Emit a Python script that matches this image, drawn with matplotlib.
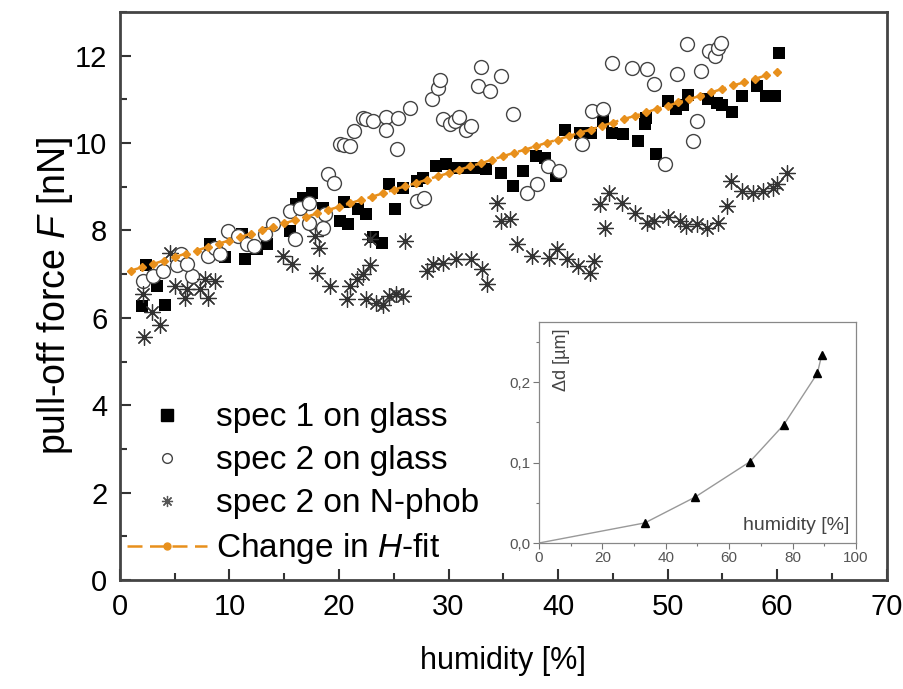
import matplotlib
matplotlib.use("Agg")
import matplotlib.pyplot as plt
from matplotlib.lines import Line2D
from matplotlib.ticker import MultipleLocator, FuncFormatter

plt.rcParams['font.family'] = ['Liberation Sans', 'DejaVu Sans']
plt.rcParams['mathtext.fontset'] = 'custom'
plt.rcParams['mathtext.rm'] = 'Liberation Sans'
plt.rcParams['mathtext.it'] = 'Liberation Sans:italic'

# spec 1 on glass (black squares)
s1_x = [2.0, 4.1, 3.35, 2.4, 11.4, 8.2, 9.6, 12.5, 13.4, 11.1, 15.5, 16.7, 17.5, 16.1,
        18.5, 20.1, 20.8, 20.5, 21.7, 22.5, 23.1, 23.9, 24.6, 25.1, 25.8, 27.1, 27.7,
        28.9, 29.8, 30.7, 31.6, 32.5, 33.4, 34.8, 35.9, 36.8, 38.0, 38.8, 39.8, 40.6,
        42.0, 43.0, 44.1, 44.9, 45.9, 47.3, 47.9, 48.05, 48.96, 50.0, 50.8, 51.4, 51.9,
        53.7, 54.5, 55.0, 55.9, 56.8, 58.2, 59.0, 59.8, 60.2]
s1_y = [6.28, 6.3, 6.74, 7.2, 7.35, 7.7, 7.4, 7.57, 7.69, 7.92, 7.99, 8.75, 8.86, 8.6,
        8.52, 8.22, 8.15, 8.64, 8.49, 8.37, 7.84, 7.72, 9.06, 8.49, 8.98, 9.13, 9.2,
        9.47, 9.52, 9.43, 9.42, 9.42, 9.4, 9.32, 9.02, 9.36, 9.7, 9.66, 9.25, 10.3,
        10.23, 10.23, 10.5, 10.23, 10.2, 10.05, 10.43, 10.57, 9.74, 10.96, 10.77, 10.88, 11.1,
        11.0, 10.92, 10.88, 10.7, 11.07, 11.3, 11.07, 11.07, 12.06]

# spec 2 on glass (open circles)
s2_x = [2.1, 3.0, 3.9, 5.2, 5.6, 6.6, 6.1, 8.0, 8.7, 9.1, 9.9, 10.8, 11.6, 12.2, 14.0,
        13.2, 15.5, 16.0, 16.4, 17.3, 17.3, 18.5, 18.7, 19.0, 19.5, 20.1, 20.5, 21.0,
        21.4, 22.2, 22.5, 23.1, 24.3, 24.3, 25.3, 25.4, 26.5, 27.1, 27.8, 28.5, 29.0,
        29.2, 29.5, 30.1, 30.6, 31.0, 31.6, 32.1, 32.7, 33.0, 33.8, 34.8, 35.9, 39.1,
        40.1, 37.2, 38.1, 42.2, 43.1, 44.1, 44.9, 46.8, 48.1, 48.8, 49.8, 50.9, 52.3,
        52.7, 51.8, 53.1, 53.8, 54.3, 54.6, 54.9]
s2_y = [6.85, 6.96, 7.08, 7.2, 7.46, 6.96, 7.23, 7.42, 7.6, 7.46, 7.99, 7.88, 7.69, 7.65, 8.15,
        7.92, 8.45, 7.8, 8.52, 8.63, 8.17, 8.06, 8.37, 9.29, 9.09, 9.97, 9.95, 9.93,
        10.27, 10.58, 10.55, 10.5, 10.6, 10.3, 9.86, 10.57, 10.8, 8.67, 8.75, 11.0, 11.26,
        11.45, 10.54, 10.43, 10.5, 10.6, 10.3, 10.4, 11.3, 11.75, 11.19, 11.53, 10.66, 9.47,
        9.36, 8.86, 9.06, 9.97, 10.73, 10.77, 11.83, 11.71, 11.69, 11.35, 9.52, 11.57, 10.05,
        10.5, 12.26, 11.64, 12.1, 11.99, 12.17, 12.28]

# spec 2 on N-phob (asterisks)
s3_x = [2.2, 3.65, 2.95, 2.1, 4.6, 5.0, 5.9, 6.1, 7.3, 8.0, 8.7, 7.8, 14.9, 15.7, 17.8,
        18.2, 18.0, 19.2, 20.7, 21.0, 21.6, 22.2, 22.8, 22.5, 23.4, 24.0, 24.6, 25.2,
        25.8, 22.8, 26.0, 28.0, 28.6, 29.5, 30.7, 32.1, 33.1, 33.5, 34.4, 34.8, 35.6,
        36.3, 37.6, 39.2, 39.9, 40.8, 41.8, 42.9, 43.3, 43.8, 44.3, 44.7, 45.8, 47.0,
        48.1, 48.8, 50.0, 51.1, 51.7, 52.7, 53.6, 54.6, 55.4, 55.8, 56.8, 57.8, 58.7,
        59.6, 60.0, 60.9]
s3_y = [5.57, 5.84, 6.14, 6.55, 7.48, 6.74, 6.46, 6.67, 6.67, 6.46, 6.85, 6.89, 7.42, 7.23, 7.88,
        7.6, 7.03, 6.74, 6.44, 6.72, 6.9, 7.0, 7.2, 6.44, 6.33, 6.3, 6.5, 6.55,
        6.5, 7.8, 7.76, 7.08, 7.23, 7.26, 7.35, 7.35, 7.12, 6.78, 8.63, 8.22, 8.26,
        7.69, 7.42, 7.37, 7.57, 7.35, 7.19, 7.03, 7.31, 8.6, 8.06, 8.86, 8.63, 8.4,
        8.17, 8.22, 8.3, 8.22, 8.1, 8.15, 8.06, 8.17, 8.56, 9.13, 8.9, 8.86, 8.9,
        8.97, 9.06, 9.32]

# change in H fit
fit_x = list(range(1, 61))
fit_y = [7.08, 7.16, 7.23, 7.31, 7.39, 7.47, 7.54, 7.62, 7.70, 7.77, 7.85, 7.93, 8.00, 8.08,
         8.16, 8.24, 8.31, 8.39, 8.47, 8.54, 8.62, 8.70, 8.77, 8.85, 8.93, 9.01, 9.08, 9.16,
         9.24, 9.31, 9.39, 9.47, 9.54, 9.62, 9.70, 9.78, 9.85, 9.93, 10.01, 10.08, 10.16,
         10.24, 10.31, 10.39, 10.47, 10.55, 10.62, 10.70, 10.78, 10.85, 10.93, 11.01, 11.08,
         11.16, 11.24, 11.32, 11.39, 11.47, 11.55, 11.62]

# inset: thickness change vs humidity
in_x = [0, 33.4, 49.2, 66.5, 77.2, 87.8, 89.2]
in_y = [0.0, 0.025, 0.057, 0.101, 0.147, 0.211, 0.234]

orange = '#E8901C'
fig = plt.figure(figsize=(9.04, 6.89), dpi=100)
ax = fig.add_axes([0.1327, 0.1582, 0.848, 0.8244])

ax.scatter(s1_x, s1_y, marker='s', s=85, c='black', linewidths=0, zorder=2)
ax.scatter(s2_x, s2_y, marker='o', s=100, facecolors='white', edgecolors='#444444',
           linewidths=1.0, zorder=3)
ax.scatter(s3_x, s3_y, marker=(8, 2, 0), s=130, c='#333333', linewidths=0.9, zorder=4)
fit_line, = ax.plot(fit_x, fit_y, color=orange, linestyle='--', dashes=(6, 3), lw=1.8,
                    marker='D', ms=4, mec=orange, mfc=orange, zorder=5)

ax.set_xlim(0, 70)
ax.set_ylim(0, 13)
ax.xaxis.set_major_locator(MultipleLocator(10))
ax.xaxis.set_minor_locator(MultipleLocator(5))
ax.yaxis.set_major_locator(MultipleLocator(2))
ax.yaxis.set_minor_locator(MultipleLocator(1))
ax.tick_params(which='both', direction='in', width=1.5, color='#333333',
               labelsize=21, top=False, right=False)
ax.tick_params(which='major', length=8, pad=9)
ax.tick_params(which='minor', length=5)
for sp in ax.spines.values():
    sp.set_linewidth(2)
    sp.set_color('#444444')
ax.set_xlabel('humidity [%]', fontsize=22, labelpad=18)
ax.set_ylabel('pull-off force $F$ [nN]', fontsize=27, labelpad=0)

h1 = Line2D([], [], ls='none', marker='s', ms=8, color='black')
h2 = Line2D([], [], ls='none', marker='o', ms=7, mfc='white', mec='#444444', mew=1)
h3 = Line2D([], [], ls='none', marker=(8, 2, 0), ms=8, color='#555555', mew=0.9)
h4 = Line2D([], [], color=orange, ls='--', dashes=(6, 3), lw=1.8, marker='o', ms=5)
ax.legend([h1, h2, h3, h4],
          ['spec 1 on glass', 'spec 2 on glass', 'spec 2 on N-phob', 'Change in $H$-fit'],
          loc='upper left', bbox_to_anchor=(0.009, 0.313), frameon=False, fontsize=24,
          numpoints=1, handlelength=2.4, handletextpad=0.28, labelspacing=0.36,
          borderpad=0, borderaxespad=0)

# inset
ins = fig.add_axes([0.5962, 0.2119, 0.3507, 0.3208])
ins.plot(in_x, in_y, color='#999999', lw=1.0, zorder=1)
ins.plot(in_x[1:], in_y[1:], ls='none', marker='^', ms=6, color='black', zorder=2)
ins.set_xlim(0, 100)
ins.set_ylim(0, 0.275)
ins.xaxis.set_major_locator(MultipleLocator(20))
ins.xaxis.set_minor_locator(MultipleLocator(10))
ins.yaxis.set_major_locator(MultipleLocator(0.1))
ins.yaxis.set_minor_locator(MultipleLocator(0.05))
ins.yaxis.set_major_formatter(FuncFormatter(lambda v, p: f'{v:.1f}'.replace('.', ',')))
ins.tick_params(which='both', direction='out', color='#777777', labelcolor='#555555',
                labelsize=11, width=0.8, pad=2)
ins.tick_params(which='major', length=4)
ins.tick_params(which='minor', length=2)
for sp in ins.spines.values():
    sp.set_linewidth(0.9)
    sp.set_color('#888888')
ins.text(0.07, 0.97, 'Δd [µm]', transform=ins.transAxes, rotation=90, ha='center',
         va='top', fontsize=13, color='#444444')
ins.text(0.98, 0.04, 'humidity [%]', transform=ins.transAxes, ha='right', va='bottom',
         fontsize=14, color='#444444')

fig.savefig('out.png', dpi=100)
